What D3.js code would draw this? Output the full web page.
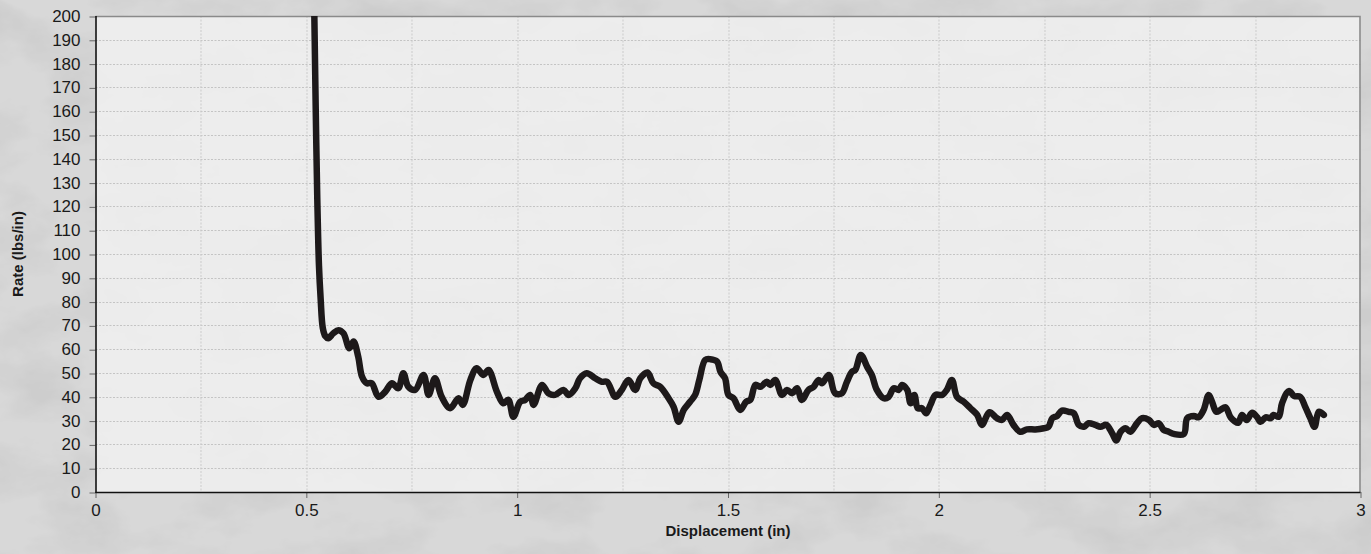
<!DOCTYPE html>
<html>
<head>
<meta charset="utf-8">
<script src="https://cdn.jsdelivr.net/npm/d3@7"></script>
<style>
  html, body { margin: 0; padding: 0; background: #d0d0d0; }
  svg { display: block; }
</style>
</head>
<body>
<div id="chart"></div>
<script>
// 位移 (in)
const displacement = [
  0.515, 0.519, 0.522, 0.526, 0.530, 0.534, 0.539, 0.545, 0.552, 0.564,
  0.576, 0.588, 0.602, 0.612, 0.623, 0.632, 0.643, 0.655, 0.671, 0.687,
  0.703, 0.718, 0.730, 0.742, 0.758, 0.778, 0.790, 0.805, 0.821, 0.841,
  0.861, 0.871, 0.889, 0.904, 0.920, 0.932, 0.952, 0.967, 0.979, 0.991,
  1.007, 1.019, 1.031, 1.039, 1.059, 1.074, 1.090, 1.110, 1.122, 1.138,
  1.149, 1.165, 1.185, 1.201, 1.213, 1.233, 1.248, 1.264, 1.280, 1.292,
  1.309, 1.323, 1.339, 1.359, 1.371, 1.383, 1.395, 1.410, 1.422, 1.432,
  1.446, 1.458, 1.474, 1.482, 1.493, 1.501, 1.513, 1.529, 1.543, 1.553,
  1.565, 1.577, 1.592, 1.600, 1.612, 1.628, 1.640, 1.652, 1.664, 1.675,
  1.691, 1.703, 1.715, 1.723, 1.739, 1.754, 1.770, 1.782, 1.794, 1.802,
  1.815, 1.830, 1.841, 1.853, 1.869, 1.881, 1.893, 1.905, 1.913, 1.925,
  1.933, 1.942, 1.950, 1.960, 1.970, 1.980, 1.992, 2.008, 2.019, 2.031,
  2.043, 2.059, 2.075, 2.091, 2.102, 2.120, 2.138, 2.150, 2.162, 2.177,
  2.193, 2.209, 2.229, 2.249, 2.260, 2.269, 2.280, 2.292, 2.308, 2.320,
  2.332, 2.344, 2.355, 2.371, 2.383, 2.397, 2.411, 2.421, 2.431, 2.443,
  2.454, 2.470, 2.482, 2.498, 2.510, 2.522, 2.533, 2.545, 2.557, 2.581,
  2.589, 2.605, 2.616, 2.628, 2.640, 2.648, 2.658, 2.668, 2.680, 2.692,
  2.710, 2.719, 2.730, 2.743, 2.755, 2.763, 2.775, 2.787, 2.794, 2.806,
  2.814, 2.830, 2.843, 2.857, 2.869, 2.881, 2.891, 2.901, 2.913
];

// 刚度 (lbs/in)
const rate = [
  230, 200, 164, 123, 95, 81, 69, 65.5, 64.6, 66.7,
  68.0, 66.7, 60.4, 63.2, 56.9, 48.5, 45.7, 45.7, 40.0, 42.1,
  45.7, 43.6, 49.9, 44.2, 42.9, 49.2, 40.8, 47.8, 40.0, 35.2,
  39.4, 36.6, 47.1, 52.0, 49.2, 51.3, 42.1, 37.3, 38.7, 31.6,
  37.9, 38.7, 40.8, 36.6, 45.0, 41.5, 40.8, 42.9, 40.8, 43.6,
  47.8, 49.9, 47.8, 46.3, 46.3, 40.0, 42.9, 47.1, 42.9, 47.8,
  50.2, 45.7, 44.2, 39.4, 35.8, 29.5, 34.5, 37.9, 40.8, 47.1,
  55.5, 55.8, 54.8, 50.5, 47.8, 40.8, 39.4, 34.5, 37.9, 38.7,
  45.0, 44.2, 46.3, 45.0, 47.1, 40.8, 42.9, 41.5, 43.6, 38.7,
  42.9, 44.2, 47.1, 45.7, 49.2, 41.5, 41.5, 46.3, 50.5, 51.3,
  57.6, 52.6, 49.2, 42.9, 39.4, 40.0, 43.6, 42.9, 45.0, 42.9,
  37.3, 40.8, 35.2, 35.2, 33.1, 36.6, 40.8, 40.8, 42.9, 47.1,
  40.0, 37.9, 35.2, 32.4, 28.2, 33.5, 31.0, 30.3, 32.4, 28.2,
  25.3, 26.3, 26.3, 26.8, 27.4, 31.0, 31.9, 34.2, 33.7, 33.1,
  28.2, 27.4, 28.9, 28.2, 27.4, 28.2, 24.7, 21.6, 25.3, 26.8,
  25.3, 28.9, 31.0, 30.3, 28.2, 28.9, 26.1, 25.3, 24.4, 24.4,
  31.0, 31.9, 31.4, 34.5, 40.8, 37.9, 33.7, 34.5, 35.6, 31.4,
  29.1, 32.4, 30.3, 33.3, 31.4, 29.5, 31.4, 31.0, 32.4, 31.6,
  37.3, 42.4, 40.3, 40.0, 35.8, 31.0, 27.4, 33.7, 32.4
];

// 刻度
const xTicks = [0, 0.5, 1, 1.5, 2, 2.5, 3];
const xGrid = [0.25, 0.5, 0.75, 1, 1.25, 1.5, 1.75, 2, 2.25, 2.5, 2.75];
const yTicks = [0, 10, 20, 30, 40, 50, 60, 70, 80, 90, 100,
  110, 120, 130, 140, 150, 160, 170, 180, 190, 200];

const xTitle = 'Displacement (in)';
const yTitle = 'Rate (lbs/in)';

const W = 1371, H = 554;
const margin = { top: 16, right: 10.5, bottom: 62, left: 95.5 };
const width = W - margin.left - margin.right;
const height = H - margin.top - margin.bottom;

const svg = d3.select('#chart').append('svg')
  .attr('width', W)
  .attr('height', H);

// 背景纹理（淡灰色大理石）
const defs = svg.append('defs');
const filter = defs.append('filter')
  .attr('id', 'marble')
  .attr('x', 0).attr('y', 0).attr('width', '100%').attr('height', '100%');
filter.append('feTurbulence')
  .attr('type', 'fractalNoise')
  .attr('baseFrequency', '0.01 0.018')
  .attr('numOctaves', 5)
  .attr('seed', 7)
  .attr('result', 'noise');
filter.append('feColorMatrix')
  .attr('in', 'noise')
  .attr('type', 'matrix')
  .attr('values', '0 0 0 0 0  0 0 0 0 0  0 0 0 0 0  0 0 0 -1.0 0.6');

defs.append('clipPath').attr('id', 'plot-clip')
  .append('rect')
  .attr('width', width)
  .attr('height', height);

svg.append('rect')
  .attr('width', W).attr('height', H)
  .attr('fill', '#d8d8d8');
svg.append('rect')
  .attr('width', W).attr('height', H)
  .attr('fill', '#000')
  .attr('opacity', 0.13)
  .attr('filter', 'url(#marble)');

const g = svg.append('g')
  .attr('transform', `translate(${margin.left},${margin.top})`);

const x = d3.scaleLinear().domain([0, 3]).range([0, width]);
const y = d3.scaleLinear().domain([0, 200]).range([height, 0]);

// 绘图区
g.append('rect')
  .attr('width', width)
  .attr('height', height)
  .attr('fill', '#f1f1f1')
  .attr('opacity', 0.82);

// 网格线
g.append('g')
  .selectAll('line')
  .data(yTicks.filter(d => d > 0 && d < 200))
  .join('line')
  .attr('x1', 0).attr('x2', width)
  .attr('y1', d => Math.round(y(d)) + 0.5)
  .attr('y2', d => Math.round(y(d)) + 0.5)
  .attr('stroke', '#c4c4c4')
  .attr('stroke-width', 1)
  .attr('stroke-dasharray', '2,1.5');

g.append('g')
  .selectAll('line')
  .data(xGrid)
  .join('line')
  .attr('x1', d => Math.round(x(d)) + 0.5)
  .attr('x2', d => Math.round(x(d)) + 0.5)
  .attr('y1', 0).attr('y2', height)
  .attr('stroke', '#cbcbcb')
  .attr('stroke-width', 1)
  .attr('stroke-dasharray', '2,1.5');

// 上、右边框
g.append('path')
  .attr('d', `M0,0.5H${width - 0.5}V${height}`)
  .attr('fill', 'none')
  .attr('stroke', '#8a8a8a')
  .attr('stroke-width', 1.6);

// 数据线
const points = displacement.map((d, i) => ({ x: d, y: rate[i] }));
const line = d3.line()
  .x(d => x(d.x))
  .y(d => y(d.y))
  .curve(d3.curveCatmullRom.alpha(0.5));

g.append('path')
  .datum(points)
  .attr('clip-path', 'url(#plot-clip)')
  .attr('d', line)
  .attr('fill', 'none')
  .attr('stroke', '#1d191a')
  .attr('stroke-width', 6.5)
  .attr('stroke-linejoin', 'round')
  .attr('stroke-linecap', 'round');

// 坐标轴
const yAxis = g.append('g')
  .call(d3.axisLeft(y).tickValues(yTicks).tickSize(6).tickPadding(9))
  .call(s => s.select('.domain').remove());
yAxis.selectAll('.tick line').attr('stroke', '#666').attr('transform', 'translate(0,0.5)');
yAxis.selectAll('text')
  .attr('fill', '#1a1a1a')
  .style('font-family', '"Liberation Sans", Arial, sans-serif')
  .style('font-size', '17px');

const xAxis = g.append('g')
  .attr('transform', `translate(0,${height})`)
  .call(d3.axisBottom(x).tickValues(xTicks).tickFormat(d3.format('~g')).tickSize(6).tickPadding(6))
  .call(s => s.select('.domain').remove());
xAxis.selectAll('.tick line').attr('stroke', '#666');
xAxis.selectAll('text')
  .attr('fill', '#1a1a1a')
  .style('font-family', '"Liberation Sans", Arial, sans-serif')
  .style('font-size', '17px');

// 轴线
g.append('line')
  .attr('x1', 0.5).attr('x2', 0.5)
  .attr('y1', 0).attr('y2', height + 1)
  .attr('stroke', '#111').attr('stroke-width', 1.6);
g.append('line')
  .attr('x1', 0).attr('x2', width)
  .attr('y1', height + 0.5).attr('y2', height + 0.5)
  .attr('stroke', '#111').attr('stroke-width', 1.6);

// 轴标题
svg.append('text')
  .attr('x', margin.left + width / 2)
  .attr('y', 536)
  .attr('text-anchor', 'middle')
  .attr('fill', '#1a1a1a')
  .style('font-family', '"Liberation Sans", Arial, sans-serif')
  .style('font-size', '15px')
  .style('font-weight', 'bold')
  .text(xTitle);

svg.append('text')
  .attr('transform', `translate(23,${margin.top + height / 2}) rotate(-90)`)
  .attr('text-anchor', 'middle')
  .attr('fill', '#1a1a1a')
  .style('font-family', '"Liberation Sans", Arial, sans-serif')
  .style('font-size', '15px')
  .style('font-weight', 'bold')
  .text(yTitle);
</script>
</body>
</html>
